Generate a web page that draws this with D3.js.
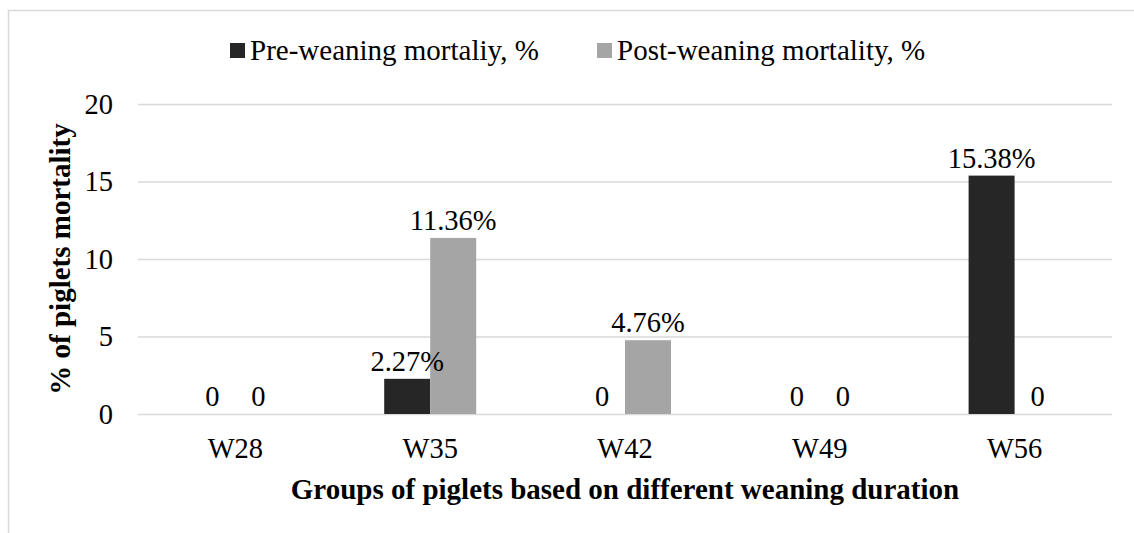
<!DOCTYPE html>
<html>
<head>
<meta charset="utf-8">
<script src="https://cdn.jsdelivr.net/npm/d3@7"></script>
<style>
  body { margin: 0; background: #fff; }
  svg text { font-family: "Liberation Serif", "Times New Roman", Times, serif; fill: #000; }
</style>
</head>
<body>
<svg id="svg_bar" width="1134" height="533"></svg>
<script>
// data
var groups = ["W28", "W35", "W42", "W49", "W56"];
var series_names = ["Pre-weaning mortaliy, %", "Post-weaning mortality, %"];
var pre_weaning = [0, 2.27, 0, 0, 15.38];
var post_weaning = [0, 11.36, 4.76, 0, 0];
var y_ticks = [0, 5, 10, 15, 20];
var bar_colors = ["#262626", "#a5a5a5"];

var svg = d3.select("svg#svg_bar");
var margin = {top: 104, right: 22, bottom: 119, left: 138};
var width = +svg.attr("width") - margin.left - margin.right;
var height = +svg.attr("height") - margin.top - margin.bottom;
var fs = 28.5;

// outer chart frame (only top and left show in the picture)
svg.append("rect")
	.attr("x", 8.5).attr("y", 10.5)
	.attr("width", 1200).attr("height", 600)
	.attr("fill", "none")
	.attr("stroke", "#d9d9d9")
	.attr("stroke-width", 1.5);

var g = svg.append("g")
	.attr("transform", "translate(" + margin.left + "," + margin.top + ")");

var x0 = d3.scaleBand().domain(groups).range([0, width]).padding(0);
var x1 = d3.scaleBand().domain([0, 1]).range([-46, 46]);
var y = d3.scaleLinear().domain([0, 20]).range([height, 0]);

// gridlines
g.append("g")
	.attr("class", "grid")
	.call(d3.axisLeft(y).tickValues(y_ticks).tickSize(-width).tickFormat(""))
	.call(function(a) {
		a.select(".domain").remove();
		a.selectAll("line").attr("stroke", "#d9d9d9").attr("stroke-width", 1.5);
	});

// y axis labels
g.append("g")
	.attr("class", "axis axis--y")
	.call(d3.axisLeft(y).tickValues(y_ticks).tickSize(0).tickPadding(25))
	.call(function(a) {
		a.select(".domain").remove();
		a.selectAll("text").attr("font-size", fs);
	});

// x axis labels
g.append("g")
	.attr("class", "axis axis--x")
	.attr("transform", "translate(0," + height + ")")
	.call(d3.axisBottom(x0).tickSize(0).tickPadding(24))
	.call(function(a) {
		a.select(".domain").remove();
		a.selectAll("text").attr("font-size", fs);
	});

var rows = [];
for (var i = 0; i < groups.length; i++) {
	rows.push({group: groups[i], s: 0, v: pre_weaning[i]});
	rows.push({group: groups[i], s: 1, v: post_weaning[i]});
}

var bx = function(d) { return x0(d.group) + x0.bandwidth() / 2 + x1(d.s); };

g.selectAll("rect.bar")
	.data(rows)
	.enter().append("rect")
	.attr("class", "bar")
	.attr("x", bx)
	.attr("y", function(d) { return y(d.v); })
	.attr("width", x1.bandwidth())
	.attr("height", function(d) { return height - y(d.v); })
	.attr("fill", function(d) { return bar_colors[d.s]; });

// data labels
g.selectAll("text.lbl")
	.data(rows)
	.enter().append("text")
	.attr("class", "lbl")
	.attr("x", function(d) { return bx(d) + x1.bandwidth() / 2; })
	.attr("y", function(d) { return y(d.v) - 8; })
	.attr("text-anchor", "middle")
	.attr("font-size", fs)
	.text(function(d) { return d.v === 0 ? "0" : d3.format(".2f")(d.v) + "%"; });

// axis titles
svg.append("text")
	.attr("transform", "translate(70," + (margin.top + height / 2) + ") rotate(-90)")
	.attr("text-anchor", "middle")
	.attr("font-size", 29)
	.attr("font-weight", "bold")
	.text("% of piglets mortality");

svg.append("text")
	.attr("x", margin.left + width / 2)
	.attr("y", 499)
	.attr("text-anchor", "middle")
	.attr("font-size", 29)
	.attr("font-weight", "bold")
	.text("Groups of piglets based on different weaning duration");

// legend
var legend_x = [230, 597];
var legend = svg.selectAll("g.legend")
	.data(series_names)
	.enter().append("g")
	.attr("class", "legend")
	.attr("transform", function(d, i) { return "translate(" + legend_x[i] + ",43)"; });
legend.append("rect")
	.attr("width", 15).attr("height", 15)
	.attr("fill", function(d, i) { return bar_colors[i]; });
legend.append("text")
	.attr("x", 20).attr("y", 17)
	.attr("font-size", 29)
	.text(function(d) { return d; });
</script>
</body>
</html>
